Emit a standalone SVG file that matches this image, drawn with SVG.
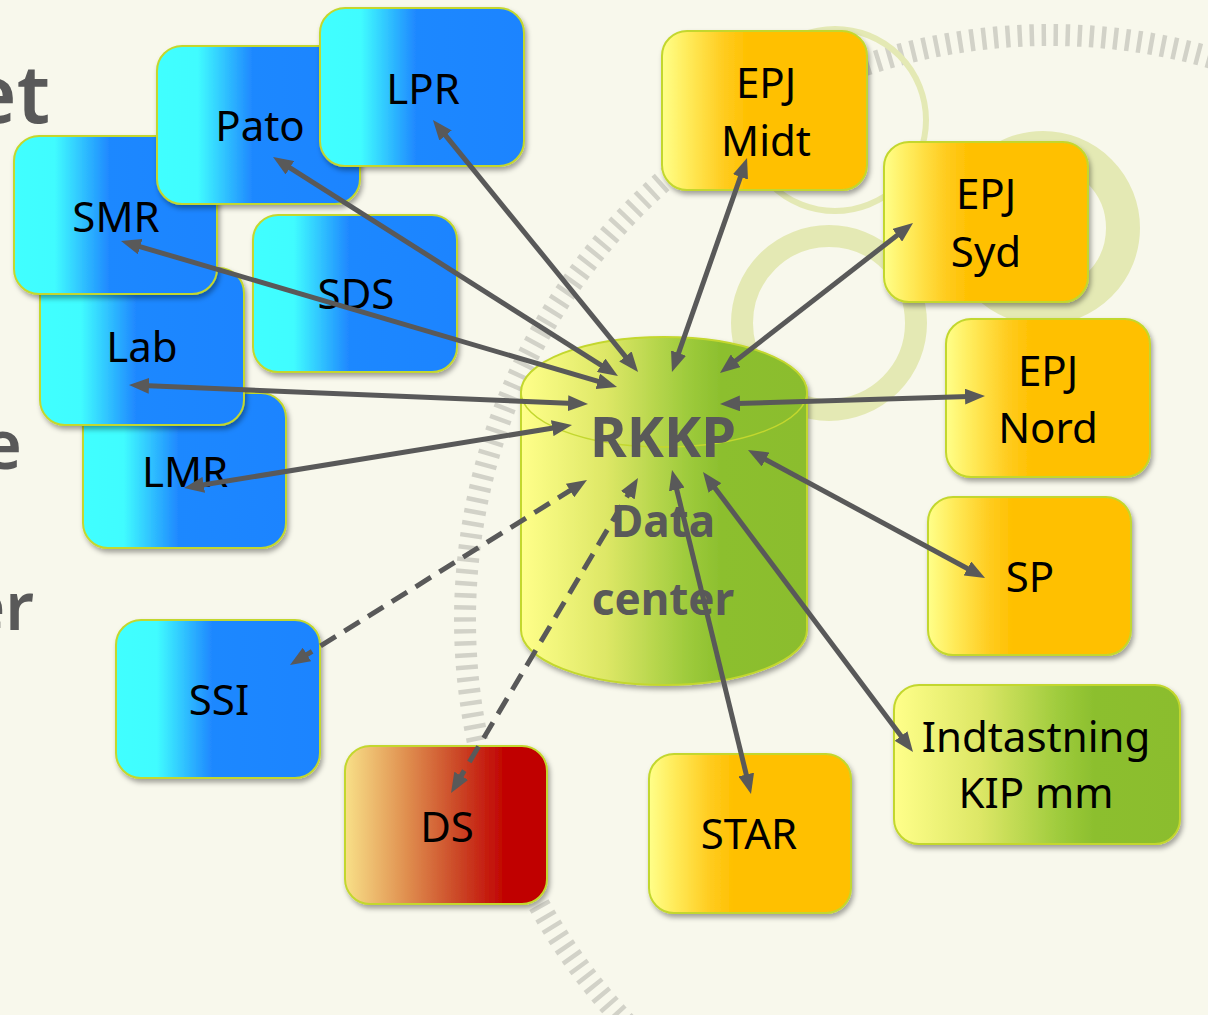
<svg xmlns="http://www.w3.org/2000/svg" width="1208" height="1015" viewBox="0 0 1208 1015">
<style>
.bg{fill:#f8f8ec}
.ring{fill:none;stroke:#e4e9b4}
.ticks{fill:none;stroke:#d2d2c8;stroke-width:22;stroke-dasharray:4.5 7.5}
.box{stroke:#c3d72e;stroke-width:2;filter:url(#sh)}
.blue{fill:url(#gBlue)}
.orange{fill:url(#gOrange)}
.red{fill:url(#gRed)}
.green{fill:url(#gGreen)}
.lbl{font-family:"Noto Sans","Open Sans","Liberation Sans",sans-serif;font-size:42px;fill:#000;text-anchor:middle}
.cyl{font-family:"Noto Sans","Open Sans","Liberation Sans",sans-serif;font-weight:700;fill:#595959;text-anchor:middle}
.side{font-family:"Noto Sans","Open Sans","Liberation Sans",sans-serif;font-weight:600;fill:#595959;text-anchor:end}
.conn{fill:none;stroke:#595959;stroke-width:5;marker-start:url(#ah);marker-end:url(#ah)}
.dash{stroke-dasharray:18 10}
</style>
<defs>
<linearGradient id="gBlue" x1="0" y1="0" x2="1" y2="0">
<stop offset="0" stop-color="#40ffff"/><stop offset="0.2" stop-color="#40fcff"/><stop offset="0.47" stop-color="#1f88ff"/><stop offset="1" stop-color="#1e84ff"/>
</linearGradient>
<linearGradient id="gOrange" x1="0" y1="0" x2="1" y2="0">
<stop offset="0" stop-color="#ffff8a"/><stop offset="0.12" stop-color="#ffec5c"/><stop offset="0.3" stop-color="#ffcc20"/><stop offset="0.42" stop-color="#ffc000"/><stop offset="1" stop-color="#ffc000"/>
</linearGradient>
<linearGradient id="gRed" x1="0" y1="0" x2="1" y2="0">
<stop offset="0" stop-color="#f8e088"/><stop offset="0.3" stop-color="#e09050"/><stop offset="0.55" stop-color="#cc4a28"/><stop offset="0.8" stop-color="#c00000"/><stop offset="1" stop-color="#c00000"/>
</linearGradient>
<linearGradient id="gGreen" x1="0" y1="0" x2="1" y2="0">
<stop offset="0" stop-color="#ffff8a"/><stop offset="0.3" stop-color="#dde766"/><stop offset="0.58" stop-color="#9ecb3c"/><stop offset="0.7" stop-color="#8cbf2e"/><stop offset="1" stop-color="#8bbd2e"/>
</linearGradient>
<filter id="sh" x="-10%" y="-10%" width="130%" height="130%">
<feDropShadow dx="2" dy="3.5" stdDeviation="2.5" flood-color="#000" flood-opacity="0.35"/>
</filter>
<marker id="ah" viewBox="0 0 20 16" refX="12" refY="8" markerWidth="20" markerHeight="16" markerUnits="userSpaceOnUse" orient="auto-start-reverse">
<path d="M0,0 L20,8 L0,16 Z" fill="#595959"/>
</marker>
</defs>
<rect class="bg" x="0" y="0" width="1208" height="1015"/>
<g id="background">
<circle class="ticks" cx="1050" cy="620" r="585"/>
<circle class="ring" cx="835" cy="120" r="91" stroke-width="6"/>
<circle class="ring" cx="829" cy="323" r="87" stroke-width="22"/>
<circle class="ring" cx="1043" cy="228" r="80" stroke-width="34"/>
<text class="side" x="50" y="123" font-size="82" font-weight="700">et</text>
<text class="side" x="22" y="469" font-size="68">e</text>
<text class="side" x="34" y="630" font-size="66">er</text>
</g>
<g id="node-LMR"><rect class="box blue" x="83" y="393" width="203" height="155" rx="25"/><text class="lbl" x="185" y="487">LMR</text></g>
<g id="node-Lab"><rect class="box blue" x="40" y="268" width="204" height="157" rx="25"/><text class="lbl" x="142" y="362">Lab</text></g>
<g id="node-SMR"><rect class="box blue" x="14" y="136" width="203" height="158" rx="25"/><text class="lbl" x="116" y="232">SMR</text></g>
<g id="node-Pato"><rect class="box blue" x="157" y="46" width="203" height="158" rx="25"/><text class="lbl" x="260" y="141">Pato</text></g>
<g id="node-LPR"><rect class="box blue" x="320" y="8" width="204" height="158" rx="25"/><text class="lbl" x="423" y="104">LPR</text></g>
<g id="node-SDS"><rect class="box blue" x="253" y="215" width="204" height="157" rx="25"/><text class="lbl" x="356" y="309">SDS</text></g>
<g id="node-SSI"><rect class="box blue" x="116" y="620" width="204" height="158" rx="25"/><text class="lbl" x="219" y="715">SSI</text></g>
<g id="node-DS"><rect class="box red" x="345" y="746" width="202" height="158" rx="25"/><text class="lbl" x="447" y="842">DS</text></g>
<g id="node-STAR"><rect class="box orange" x="649" y="754" width="202" height="159" rx="25"/><text class="lbl" x="749" y="849">STAR</text></g>
<g id="node-Indtastning"><rect class="box green" x="894" y="685" width="286" height="159" rx="25"/><text class="lbl" x="1036" y="752">Indtastning</text><text class="lbl" x="1036" y="808">KIP mm</text></g>
<g id="node-SP"><rect class="box orange" x="928" y="497" width="203" height="158" rx="25"/><text class="lbl" x="1030" y="592">SP</text></g>
<g id="node-EPJNord"><rect class="box orange" x="946" y="319" width="204" height="158" rx="25"/><text class="lbl" x="1048" y="386">EPJ</text><text class="lbl" x="1048" y="443">Nord</text></g>
<g id="node-EPJSyd"><rect class="box orange" x="884" y="142" width="204" height="160" rx="25"/><text class="lbl" x="986" y="209">EPJ</text><text class="lbl" x="986" y="267">Syd</text></g>
<g id="node-EPJMidt"><rect class="box orange" x="662" y="31" width="205" height="159" rx="25"/><text class="lbl" x="766" y="98">EPJ</text><text class="lbl" x="766" y="156">Midt</text></g>
<g id="node-RKKP">
<path class="box green" d="M521,392 L521,630 A143,55 0 0 0 807,630 L807,392 A143,55 0 0 0 521,392 Z"/>
<path d="M521,392 A143,55 0 0 0 807,392" fill="none" stroke="#c3d72e" stroke-width="1.5"/>
<text class="cyl" x="663" y="457" font-size="56">RKKP</text>
<text class="cyl" x="663" y="537" font-size="44">Data</text>
<text class="cyl" x="663" y="615" font-size="44">center</text>
</g>
<g id="connectors">
<line class="conn" x1="438" y1="126.2" x2="633" y2="365.8"/>
<line class="conn" x1="279.8" y1="161.3" x2="611.2" y2="371.7"/>
<line class="conn" x1="128.7" y1="243.3" x2="609.3" y2="384.7"/>
<line class="conn" x1="137" y1="385.3" x2="580" y2="403.7"/>
<line class="conn" x1="191.9" y1="486.7" x2="564.1" y2="426.3"/>
<line class="conn" x1="744.4" y1="165.6" x2="674.6" y2="364.4"/>
<line class="conn" x1="906.7" y1="227.9" x2="726.3" y2="368.1"/>
<line class="conn" x1="977" y1="396.2" x2="728" y2="403.8"/>
<line class="conn" x1="978" y1="574.2" x2="755" y2="453.8"/>
<line class="conn" x1="908.2" y1="745.6" x2="707.8" y2="478.4"/>
<line class="conn" x1="749.1" y1="786.2" x2="673.9" y2="477.8"/>
<line class="conn dash" x1="296.8" y1="660.8" x2="580.2" y2="484.2"/>
<line class="conn dash" x1="455.1" y1="786.1" x2="633.9" y2="484.9"/>
</g>
</svg>
